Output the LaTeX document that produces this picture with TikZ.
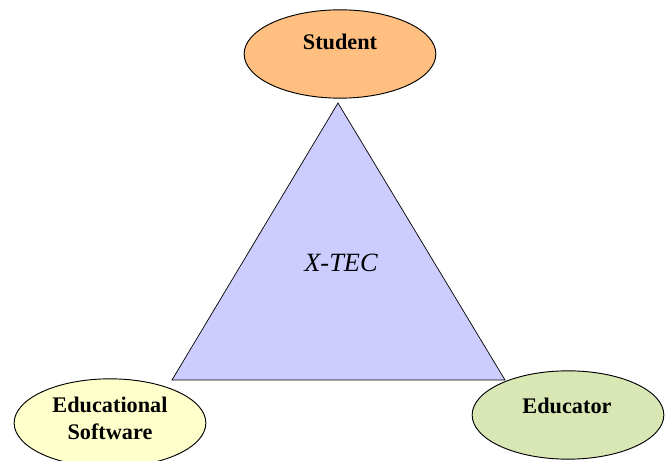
\documentclass[tikz,border=0pt]{standalone}
\usepackage{fontspec}
\setmainfont{Liberation Serif}
\usepackage{tikz}
\usepackage{xcolor}
\usetikzlibrary{shapes.geometric}
\definecolor{StudentOrange}{HTML}{FFBF80}
\definecolor{SoftwareYellow}{HTML}{FFFFCC}
\definecolor{EducatorGreen}{HTML}{D8E7B4}
\definecolor{TecLavender}{HTML}{CCCCFF}

\begin{document}
\begin{tikzpicture}[x=0.03cm, y=-0.03cm,
  actor/.style={ellipse, draw=black, line width=0.8pt, minimum width=5.75cm, minimum height=2.65cm, inner sep=0pt},
  actortext/.style={font=\fontsize{19}{23}\selectfont\bfseries, align=center}]
  \useasboundingbox (0,0) rectangle (670,461);

  % Triangle corners
  \coordinate (apex) at (338,103);
  \coordinate (baseL) at (172,380);
  \coordinate (baseR) at (505,380);
  \draw[fill=TecLavender, line width=0.6pt] (apex) -- (baseL) -- (baseR) -- cycle;
  \node[font=\fontsize{22.5}{26}\selectfont\itshape] (xtec) at (341,263) {X-TEC};

  % Ellipses: Student, Educational Software, Educator
  \node[actor, fill=StudentOrange] (student) at (340,54) {};
  \node[actor, fill=SoftwareYellow] (software) at (110,423) {};
  \node[actor, fill=EducatorGreen] (educator) at (568,415) {};

  % Ellipse labels
  \node[actortext] (studentlbl) at (340,42) {Student};
  \node[actortext] (softwarelbl) at (110,418) {Educational\\Software};
  \node[actortext] (educatorlbl) at (567,406) {Educator};
\end{tikzpicture}
\end{document}
